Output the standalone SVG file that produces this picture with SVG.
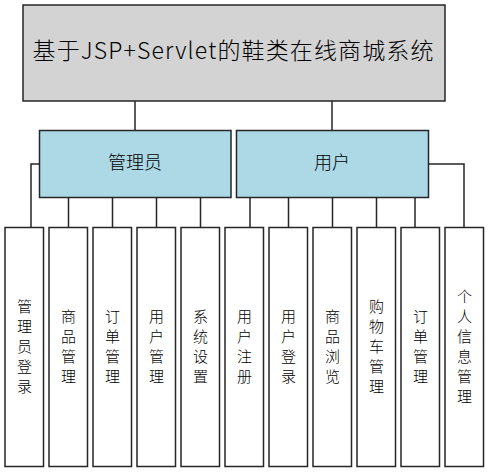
<svg xmlns="http://www.w3.org/2000/svg" width="489" height="473" viewBox="0 0 489 473">
<style>
.box{stroke:#262626;stroke-width:1.5}
.top{fill:#d3d3d3}
.mid{fill:#add8e6}
.leaf{fill:#ffffff}
.ln{fill:none;stroke:#262626;stroke-width:1.5}
text{font-family:"Noto Sans CJK SC","Microsoft YaHei",sans-serif;font-weight:300;fill:#000;text-anchor:middle}
.t1{font-size:23px}
.t2{font-size:18px}
.t3{font-size:15px}
</style>
<rect width="489" height="473" fill="#ffffff"/>
<g id="connectors">
<path class="ln" d="M135,101V130.5M332,101V130.5"/>
<path class="ln" d="M39.5,164H31V227.5"/>
<path class="ln" d="M68.5,197.5V227.5M112.5,197.5V227.5M156.5,197.5V227.5M200.5,197.5V227.5"/>
<path class="ln" d="M250,197.5V227.5M288.5,197.5V227.5M332.5,197.5V227.5M376.5,197.5V227.5M415,197.5V227.5"/>
<path class="ln" d="M428.5,164H464V227.5"/>
</g>
<g id="root">
<rect class="box top" x="23" y="5" width="422" height="96"/>
<text class="t1" x="233" y="58.5" textLength="401" lengthAdjust="spacing">基于JSP+Servlet的鞋类在线商城系统</text>
</g>
<g id="admin">
<rect class="box mid" x="39.5" y="130.5" width="191.5" height="67"/>
<text class="t2" x="135" y="169">管理员</text>
</g>
<g id="user">
<rect class="box mid" x="236.5" y="130.5" width="192" height="67"/>
<text class="t2" x="332" y="169">用户</text>
</g>
<g id="leaf1"><rect class="box leaf" x="5" y="227.5" width="38.5" height="239"/>
<text class="t3"><tspan x="24.5" y="311.5">管</tspan><tspan x="24.5" dy="20">理</tspan><tspan x="24.5" dy="20">员</tspan><tspan x="24.5" dy="20">登</tspan><tspan x="24.5" dy="20">录</tspan></text></g>
<g id="leaf2"><rect class="box leaf" x="49" y="227.5" width="38.5" height="239"/>
<text class="t3"><tspan x="68.5" y="321.5">商</tspan><tspan x="68.5" dy="20">品</tspan><tspan x="68.5" dy="20">管</tspan><tspan x="68.5" dy="20">理</tspan></text></g>
<g id="leaf3"><rect class="box leaf" x="93" y="227.5" width="38.5" height="239"/>
<text class="t3"><tspan x="112.5" y="321.5">订</tspan><tspan x="112.5" dy="20">单</tspan><tspan x="112.5" dy="20">管</tspan><tspan x="112.5" dy="20">理</tspan></text></g>
<g id="leaf4"><rect class="box leaf" x="137" y="227.5" width="38.5" height="239"/>
<text class="t3"><tspan x="156.5" y="321.5">用</tspan><tspan x="156.5" dy="20">户</tspan><tspan x="156.5" dy="20">管</tspan><tspan x="156.5" dy="20">理</tspan></text></g>
<g id="leaf5"><rect class="box leaf" x="181" y="227.5" width="38.5" height="239"/>
<text class="t3"><tspan x="200.5" y="321.5">系</tspan><tspan x="200.5" dy="20">统</tspan><tspan x="200.5" dy="20">设</tspan><tspan x="200.5" dy="20">置</tspan></text></g>
<g id="leaf6"><rect class="box leaf" x="225" y="227.5" width="38.5" height="239"/>
<text class="t3"><tspan x="244.5" y="321.5">用</tspan><tspan x="244.5" dy="20">户</tspan><tspan x="244.5" dy="20">注</tspan><tspan x="244.5" dy="20">册</tspan></text></g>
<g id="leaf7"><rect class="box leaf" x="269" y="227.5" width="38.5" height="239"/>
<text class="t3"><tspan x="288.5" y="321.5">用</tspan><tspan x="288.5" dy="20">户</tspan><tspan x="288.5" dy="20">登</tspan><tspan x="288.5" dy="20">录</tspan></text></g>
<g id="leaf8"><rect class="box leaf" x="313" y="227.5" width="38.5" height="239"/>
<text class="t3"><tspan x="332.5" y="321.5">商</tspan><tspan x="332.5" dy="20">品</tspan><tspan x="332.5" dy="20">浏</tspan><tspan x="332.5" dy="20">览</tspan></text></g>
<g id="leaf9"><rect class="box leaf" x="357" y="227.5" width="38.5" height="239"/>
<text class="t3"><tspan x="376.5" y="311.5">购</tspan><tspan x="376.5" dy="20">物</tspan><tspan x="376.5" dy="20">车</tspan><tspan x="376.5" dy="20">管</tspan><tspan x="376.5" dy="20">理</tspan></text></g>
<g id="leaf10"><rect class="box leaf" x="401" y="227.5" width="38.5" height="239"/>
<text class="t3"><tspan x="420.5" y="321.5">订</tspan><tspan x="420.5" dy="20">单</tspan><tspan x="420.5" dy="20">管</tspan><tspan x="420.5" dy="20">理</tspan></text></g>
<g id="leaf11"><rect class="box leaf" x="445" y="227.5" width="38.5" height="239"/>
<text class="t3"><tspan x="464.5" y="301.5">个</tspan><tspan x="464.5" dy="20">人</tspan><tspan x="464.5" dy="20">信</tspan><tspan x="464.5" dy="20">息</tspan><tspan x="464.5" dy="20">管</tspan><tspan x="464.5" dy="20">理</tspan></text></g>
</svg>
